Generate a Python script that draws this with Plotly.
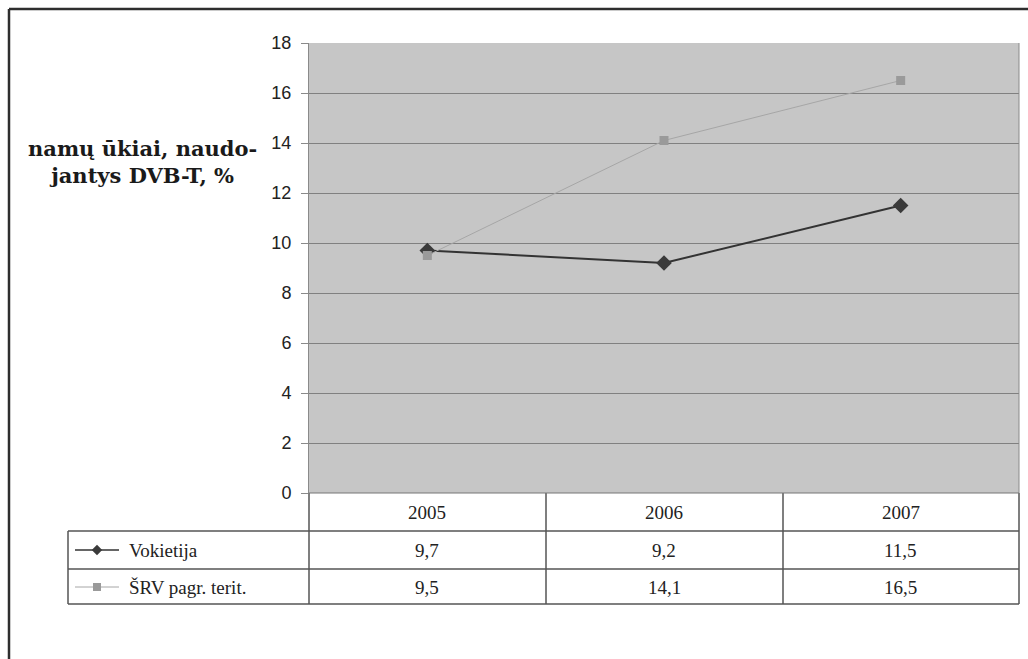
import plotly.graph_objects as go

# Data
years = ["2005", "2006", "2007"]
vokietija = [9.7, 9.2, 11.5]
srv = [9.5, 14.1, 16.5]
series_names = ["Vokietija", "ŠRV pagr. terit."]
y_ticks = [0, 2, 4, 6, 8, 10, 12, 14, 16, 18]

W, H = 1028, 659
PLOT_L, PLOT_R, PLOT_T, PLOT_B = 309, 1019, 43, 493

DARK = "#333333"
LIGHT = "#a6a6a6"
SERIF = "Liberation Serif"


def fmt(v):
    return f"{v:.1f}".replace(".", ",")


fig = go.Figure()

# Main series
fig.add_trace(go.Scatter(
    x=years, y=vokietija, name=series_names[0], mode="lines+markers",
    line=dict(color=DARK, width=2),
    marker=dict(symbol="diamond", size=12, color="#3a3a3a"),
    xaxis="x", yaxis="y", cliponaxis=False,
))
fig.add_trace(go.Scatter(
    x=years, y=srv, name=series_names[1], mode="lines+markers",
    line=dict(color=LIGHT, width=1),
    marker=dict(symbol="square", size=9, color="#9a9a9a"),
    xaxis="x", yaxis="y", cliponaxis=False,
))

# Pixel-space overlay axes for the data table and frame
key_y = [550, 587]
key_colors = [DARK, LIGHT]
key_widths = [1.5, 1]
key_symbols = ["diamond", "square"]
key_marker_colors = ["#3a3a3a", "#9a9a9a"]
for i in range(2):
    fig.add_trace(go.Scatter(
        x=[75, 119], y=[key_y[i], key_y[i]], mode="lines",
        line=dict(color=key_colors[i], width=key_widths[i]),
        xaxis="x2", yaxis="y2", hoverinfo="skip", showlegend=False,
    ))
    fig.add_trace(go.Scatter(
        x=[97], y=[key_y[i]], mode="markers",
        marker=dict(symbol=key_symbols[i], size=8, color=key_marker_colors[i]),
        xaxis="x2", yaxis="y2", hoverinfo="skip", showlegend=False,
    ))

shapes = []
# Plot-area background
shapes.append(dict(type="rect", xref="x domain", yref="y domain", x0=0, x1=1, y0=0, y1=1,
                   fillcolor="#c6c6c6", line=dict(width=0), layer="below"))
# Plot-area right edge
shapes.append(dict(type="line", xref="x2", yref="y2", x0=PLOT_R, x1=PLOT_R, y0=PLOT_T, y1=PLOT_B,
                   line=dict(color="#8a8a8a", width=1)))

# Data table grid
TBL_L = 68
ROW_TOP, ROW_MID, ROW_BOT = 531, 569, 604
col_edges = [309, 546, 783, 1019]
grid = dict(color="#555555", width=1.5)
for xe in col_edges:
    shapes.append(dict(type="line", xref="x2", yref="y2", x0=xe, x1=xe, y0=PLOT_B, y1=ROW_BOT, line=grid))
for ye in [ROW_TOP, ROW_MID, ROW_BOT]:
    shapes.append(dict(type="line", xref="x2", yref="y2", x0=TBL_L, x1=PLOT_R, y0=ye, y1=ye, line=grid))
shapes.append(dict(type="line", xref="x2", yref="y2", x0=TBL_L, x1=TBL_L, y0=ROW_TOP, y1=ROW_BOT, line=grid))
shapes.append(dict(type="line", xref="x2", yref="y2", x0=PLOT_L, x1=PLOT_R, y0=PLOT_B, y1=PLOT_B,
                   line=dict(color="#777777", width=1)))

# Outer frame
frame = dict(color="#2e2e2e", width=2.5)
shapes.append(dict(type="line", xref="x2", yref="y2", x0=9, x1=W + 5, y0=9, y1=9, line=frame))
shapes.append(dict(type="line", xref="x2", yref="y2", x0=9, x1=9, y0=9, y1=H + 5, line=frame))

annotations = []
# Axis title
annotations.append(dict(
    xref="x2", yref="y2", x=142, y=162, xanchor="center", yanchor="middle",
    text="<b>namų ūkiai, naudo-<br>jantys DVB-T, %</b>", showarrow=False, align="center",
    font=dict(family="DejaVu Serif", size=21, color="#1a1a1a"),
))
# Header row and value rows (x given as category index)
header_y, row_ys = 512, [550, 587]
tfont = dict(family=SERIF, size=19, color="#222222")
for j, yr in enumerate(years):
    annotations.append(dict(xref="x", yref="y2", x=j, y=header_y, text=yr, showarrow=False, font=tfont))
for i, vals in enumerate([vokietija, srv]):
    annotations.append(dict(xref="x2", yref="y2", x=127, y=row_ys[i], xanchor="left",
                            text=series_names[i], showarrow=False, font=tfont))
    for j in range(len(years)):
        annotations.append(dict(xref="x", yref="y2", x=j, y=row_ys[i], text=fmt(vals[j]),
                                showarrow=False, font=tfont))

fig.update_layout(
    width=W, height=H,
    margin=dict(l=0, r=0, t=0, b=0, pad=0, autoexpand=False),
    paper_bgcolor="white",
    plot_bgcolor="rgba(0,0,0,0)",
    showlegend=False,
    xaxis=dict(
        domain=[PLOT_L / W, PLOT_R / W], type="category", range=[-0.5, 2.5],
        showticklabels=False, showgrid=False, zeroline=False, ticks="",
        anchor="y", fixedrange=True, automargin=False,
    ),
    yaxis=dict(
        domain=[1 - PLOT_B / H, 1 - PLOT_T / H], range=[0, 18], tickvals=y_ticks,
        showgrid=True, gridcolor="#808080", gridwidth=1, zeroline=False,
        ticks="outside", ticklen=7, tickcolor="#8a8a8a", ticklabelstandoff=6,
        tickfont=dict(family="Liberation Sans", size=18, color="#222222"),
        showline=True, linecolor="#8a8a8a", linewidth=1,
        anchor="x", fixedrange=True, automargin=False,
    ),
    xaxis2=dict(domain=[0, 1], range=[0, W], visible=False, anchor="y2",
                fixedrange=True, automargin=False),
    yaxis2=dict(domain=[0, 1], range=[H, 0], visible=False, anchor="x2",
                fixedrange=True, automargin=False),
    shapes=shapes,
    annotations=annotations,
)

fig.write_html("out.html")
